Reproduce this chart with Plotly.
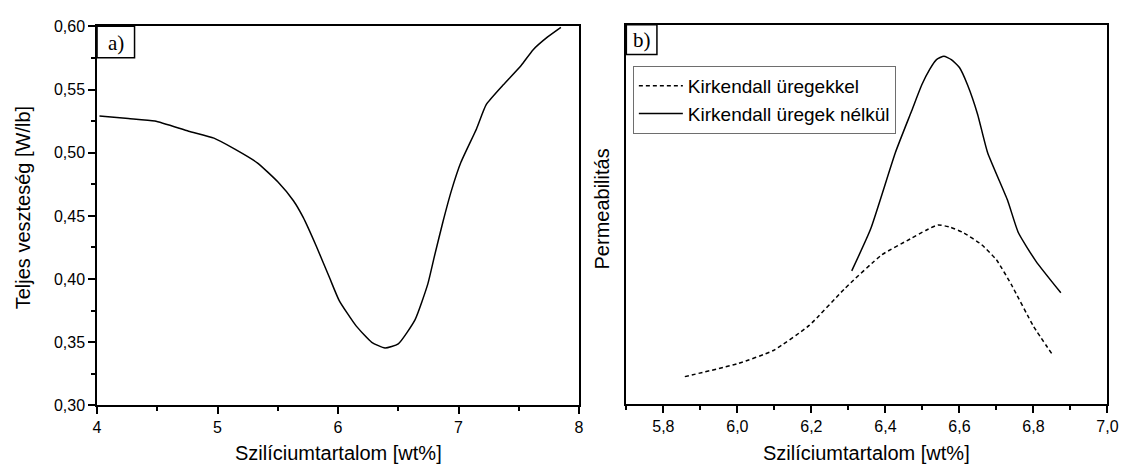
import plotly.graph_objects as go

# Panel a) total loss vs silicon content
si_a = [4.02, 4.26, 4.48, 4.76, 4.97, 5.14, 5.33, 5.50, 5.63, 5.71, 5.82, 5.93, 6.01,
        6.15, 6.28, 6.39, 6.50, 6.64, 6.745, 6.80, 6.87, 6.94, 7.02, 7.15, 7.23, 7.37, 7.52, 7.62, 7.74, 7.85]
loss_a = [0.529, 0.527, 0.525, 0.517, 0.5115, 0.503, 0.492, 0.477, 0.462, 0.449, 0.426, 0.401, 0.383,
          0.363, 0.350, 0.3455, 0.3488, 0.368, 0.396, 0.418, 0.445, 0.4696, 0.4924, 0.519, 0.538, 0.5535, 0.569, 0.5815, 0.5916, 0.5992]

# Panel b) permeability (arbitrary units)
si_b_with = [5.858, 6.0, 6.097, 6.194, 6.29, 6.39, 6.467, 6.510, 6.542, 6.575, 6.61, 6.66, 6.70, 6.74, 6.80, 6.852]
perm_with = [7.2, 10.6, 14.1, 20.7, 30.4, 39.3, 43.5, 45.8, 47.2, 46.6, 45.2, 42.0, 38.0, 31.5, 20.5, 12.9]
si_b_without = [6.309, 6.36, 6.427, 6.471, 6.498, 6.52, 6.538, 6.558, 6.578, 6.60, 6.622, 6.649, 6.676, 6.73, 6.759, 6.807, 6.874]
perm_without = [35.1, 46.1, 66.3, 77.3, 84.1, 88.3, 90.8, 91.7, 90.8, 88.7, 84.1, 76.4, 66.3, 53.7, 45.2, 37.6, 29.3]

labels = ["Kirkendall üregekkel", "Kirkendall üregek nélkül"]
x_title = "Szilíciumtartalom [wt%]"
y_title_a = "Teljes veszteség [W/lb]"
y_title_b = "Permeabilitás"

W, H = 1132, 473
FONT = "Liberation Sans, Arial, sans-serif"
SERIF = "Liberation Serif, Times New Roman, serif"

def px(x):
    return x / W

def py(y):
    return 1 - y / H

fig = go.Figure()
fig.add_trace(go.Scatter(x=si_a, y=loss_a, mode="lines", line=dict(color="black", width=1.5, shape="spline", smoothing=0.5),
                         showlegend=False, xaxis="x", yaxis="y"))
fig.add_trace(go.Scatter(x=si_b_with, y=perm_with, mode="lines", name=labels[0],
                         line=dict(color="black", width=1.5, dash="4px,3px", shape="spline", smoothing=0.5),
                         xaxis="x2", yaxis="y2"))
fig.add_trace(go.Scatter(x=si_b_without, y=perm_without, mode="lines", name=labels[1],
                         line=dict(color="black", width=1.5, shape="spline", smoothing=0.5),
                         xaxis="x2", yaxis="y2"))

axis_common = dict(showline=True, linecolor="black", linewidth=1.5, mirror=True, showgrid=False, zeroline=False,
                   ticks="outside", ticklen=7, tickwidth=1.5, tickcolor="black",
                   tickfont=dict(family=FONT, size=16, color="black"))
minor_common = dict(ticks="outside", ticklen=4, tickwidth=1.5, tickcolor="black")

fig.update_layout(
    width=W, height=H,
    margin=dict(l=0, r=0, t=0, b=0),
    paper_bgcolor="white", plot_bgcolor="white",
    separators=", ",
    font=dict(family=FONT, color="black"),
    xaxis=dict(domain=[px(94.3), px(582.7)], range=[4, 8], dtick=1, tickformat="d",
               minor=dict(dtick=0.5, **minor_common), anchor="y", **axis_common),
    yaxis=dict(domain=[py(412.3), py(19)], range=[0.30, 0.60], dtick=0.05, tickformat=".2f",
               minor=dict(dtick=0.025, **minor_common), anchor="x", **axis_common),
    xaxis2=dict(domain=[px(630.7), px(1118.3)], range=[5.7, 7.0], dtick=0.2, tick0=5.8, tickformat=".1f",
                minor=dict(dtick=0.1, tick0=5.7, **minor_common), anchor="y2", **axis_common),
    yaxis2=dict(domain=[py(410.7), py(17.3)], range=[0, 100], showticklabels=False, ticks="",
                showline=True, linecolor="black", linewidth=1.5, mirror=True, showgrid=False, zeroline=False,
                anchor="x2"),
    legend=dict(x=px(637.3), y=py(60), xanchor="left", yanchor="top",
                bordercolor="#6e6e6e", borderwidth=1, bgcolor="white", itemwidth=44,
                font=dict(family=FONT, size=19, color="black"), tracegroupgap=0),
    showlegend=True,
)

# Axis titles
annots = [
    dict(text=x_title, x=px(338.5), y=py(462), angle=0),
    dict(text=x_title, x=px(874.5), y=py(462), angle=0),
    dict(text=y_title_a, x=px(19), y=py(207), angle=-90),
    dict(text=y_title_b, x=px(606), y=py(208), angle=-90),
]
for a in annots:
    fig.add_annotation(text=a["text"], x=a["x"], y=a["y"], xref="paper", yref="paper",
                       xanchor="center", yanchor="middle", textangle=a["angle"], showarrow=False,
                       font=dict(family=FONT, size=20, color="black"))

# Panel labels
fig.add_shape(type="rect", xref="paper", yref="paper", x0=px(94.3), x1=px(132.3), y0=py(51.7), y1=py(19),
              line=dict(color="black", width=1.5), fillcolor="white", layer="above")
fig.add_shape(type="rect", xref="paper", yref="paper", x0=px(630.7), x1=px(661.7), y0=py(48.3), y1=py(17.3),
              line=dict(color="black", width=1.5), fillcolor="white", layer="above")
fig.add_annotation(text="a)", x=px(113.3), y=py(36), xref="paper", yref="paper", showarrow=False,
                   xanchor="center", yanchor="middle", font=dict(family=SERIF, size=21, color="black"))
fig.add_annotation(text="b)", x=px(646.2), y=py(33), xref="paper", yref="paper", showarrow=False,
                   xanchor="center", yanchor="middle", font=dict(family=SERIF, size=21, color="black"))

fig.write_html("out.html")
